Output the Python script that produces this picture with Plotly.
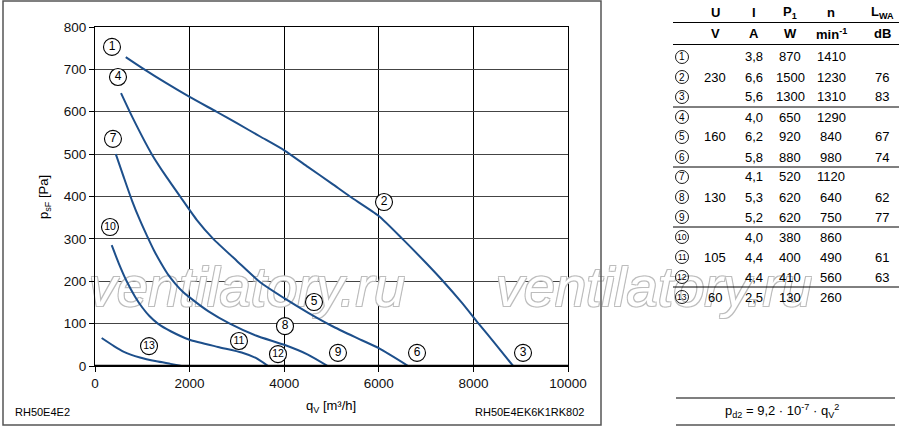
import plotly.graph_objects as go

# ---------------- data ----------------
# fan curves: flow q_V [m3/h] vs static pressure p_sF [Pa]
q_230 = [650, 1000, 1500, 2000, 2570, 3000, 3500, 4000, 4500, 5000, 5390, 6000, 6500, 7000, 7360, 7750, 8110, 8480, 8840]
p_230 = [729, 703, 668, 635, 600, 573, 541, 509, 470, 431, 400, 354, 300, 243, 200, 150, 100, 50, 0]

q_160 = [550, 800, 1200, 1500, 1800, 2150, 2500, 3000, 3500, 4000, 4500, 5000, 5500, 6000, 6620]
p_160 = [644, 585, 500, 448, 400, 345, 300, 248, 197, 160, 126, 95, 68, 42, 0]

q_130 = [440, 600, 780, 950, 1100, 1250, 1400, 1550, 1700, 1850, 2000, 2400, 2850, 3400, 4000, 4500, 4920]
p_130 = [500, 448, 391, 344, 307, 272, 242, 215, 194, 176, 162, 129, 100, 72, 50, 27, 0]

q_105 = [353, 500, 670, 850, 1000, 1150, 1330, 1600, 2000, 2600, 3100, 3400, 3660]
p_105 = [285, 243, 200, 163, 138, 118, 100, 82, 62, 45, 32, 19, 0]

q_60 = [141, 400, 600, 950, 1300, 1600, 1830]
p_60 = [66, 47, 34, 20, 11, 5, 0]

x_ticks = [0, 2000, 4000, 6000, 8000, 10000]
y_ticks = [0, 100, 200, 300, 400, 500, 600, 700, 800]

# operating point labels on the chart
label_ids = ["1", "4", "7", "10", "2", "5", "8", "11", "12", "13", "3", "6", "9"]
label_q = [359, 486, 380, 317, 6110, 4630, 4017, 3044, 3869, 1142, 9049, 6808, 5137]
label_p = [753, 682, 536, 328, 387, 151, 94, 59, 28, 47, 31, 31, 31]

# table
tbl_ids = [str(i) for i in range(1, 14)]
tbl_U = ["", "230", "", "", "160", "", "", "130", "", "", "105", "", "60"]
tbl_I = ["3,8", "6,6", "5,6", "4,0", "6,2", "5,8", "4,1", "5,3", "5,2", "4,0", "4,4", "4,4", "2,5"]
tbl_P1 = ["870", "1500", "1300", "650", "920", "880", "520", "620", "620", "380", "400", "410", "130"]
tbl_n = ["1410", "1230", "1310", "1290", "840", "980", "1120", "640", "750", "860", "490", "560", "260"]
tbl_L = ["", "76", "83", "", "67", "74", "", "62", "77", "", "61", "63", ""]
hdr1 = ["U", "I", "P<sub>1</sub>", "n", "L<sub>WA</sub>"]
hdr2 = ["V", "A", "W", "min<sup>-1</sup>", "dB"]

# ---------------- layout geometry (pixels) ----------------
W, H = 900, 428
PL, PR, PT, PB = 95, 568, 27, 366
XMAX, YMAX = 10000, 800
FONT = "Liberation Sans, Arial, Helvetica, sans-serif"
BLUE = "#1d4f8b"
WM_SHADOW = "-1px -1px 0 #bdbdbd, 1px -1px 0 #bdbdbd, -1px 1px 0 #bdbdbd, 1px 1px 0 #bdbdbd"
WM_FONT = dict(family=FONT, size=56, style="italic", color="white", shadow=WM_SHADOW)


def dx(px):
    return (px - PL) / (PR - PL) * XMAX


def dy(py):
    return (PB - py) / (PB - PT) * YMAX


def fx(px):
    return px / W


def fy(py):
    return 1 - py / H


fig = go.Figure()

# watermark inside the chart (beneath curves)
fig.add_trace(go.Scatter(
    x=[dx(247)], y=[dy(292)], mode="text", text=["ventilatory.ru"], cliponaxis=False,
    textposition="middle center", hoverinfo="skip", showlegend=False, textfont=WM_FONT,
))

for q, p in [(q_230, p_230), (q_160, p_160), (q_130, p_130), (q_105, p_105), (q_60, p_60)]:
    fig.add_trace(go.Scatter(x=q, y=p, mode="lines", line=dict(color=BLUE, width=2, shape="spline", smoothing=0.6),
                             hoverinfo="skip", showlegend=False))

# chart labels (circled numbers)
fig.add_trace(go.Scatter(
    x=label_q, y=label_p, mode="markers+text", text=label_ids, textposition="middle center",
    marker=dict(symbol="circle", size=17, color="white", line=dict(color="black", width=1.1)),
    textfont=dict(family=FONT, size=[12 if len(t) == 1 else 10.5 for t in label_ids], color="black"),
    cliponaxis=False, hoverinfo="skip", showlegend=False,
))

# second watermark copy on a full-page helper subplot (pixel coordinates), below table shapes/text
fig.add_trace(go.Scatter(
    x=[654], y=[292], xaxis="x2", yaxis="y2", mode="text", text=["ventilatory.ru"],
    textposition="middle center", hoverinfo="skip", showlegend=False, textfont=WM_FONT, cliponaxis=False,
))

ann = []
shapes = []
row_y = [57 + 20 * i for i in range(13)]
CX, R = 682, 6.5
for r, t in zip(row_y, tbl_ids):
    shapes.append(dict(type="circle", xref="paper", yref="paper", x0=fx(CX - R), x1=fx(CX + R),
                       y0=fy(r + R), y1=fy(r - R), line=dict(color="black", width=0.9)))
    ann.append(dict(x=fx(CX), y=fy(r), text=t, xanchor="center", yanchor="middle",
                    font=dict(family=FONT, size=10 if len(t) == 1 else 8.5, color="black")))

col_x = [715, 754, 790, 831, 882]
for cx, h1, h2 in zip(col_x, hdr1, hdr2):
    ann.append(dict(x=fx(cx), y=fy(12), text="<b>%s</b>" % h1, xanchor="center", yanchor="middle"))
    ann.append(dict(x=fx(cx), y=fy(34), text="<b>%s</b>" % h2, xanchor="center", yanchor="middle"))
for col, cx in zip([tbl_U, tbl_I, tbl_P1, tbl_n, tbl_L], col_x):
    for r, t in zip(row_y, col):
        if t:
            ann.append(dict(x=fx(cx), y=fy(r), text=t, xanchor="center", yanchor="middle"))

ann.append(dict(x=fx(782), y=fy(411),
                text="p<sub>d2</sub> = 9,2 · 10<sup>-7</sup> · q<sub>V</sub><sup>2</sup>",
                xanchor="center", yanchor="middle"))
ann.append(dict(x=fx(44), y=fy(197), text="p<sub>sF</sub> [Pa]", textangle=-90,
                xanchor="center", yanchor="middle"))
ann.append(dict(x=fx(331), y=fy(406), text="q<sub>V</sub> [m³/h]", xanchor="center", yanchor="middle"))
ann.append(dict(x=fx(13), y=fy(412), text="RH50E4E2", xanchor="left", yanchor="middle",
                font=dict(family=FONT, size=11, color="black")))
ann.append(dict(x=fx(586), y=fy(412), text="RH50E4EK6K1RK802", xanchor="right", yanchor="middle",
                font=dict(family=FONT, size=11, color="black")))
for a in ann:
    a.update(xref="paper", yref="paper", showarrow=False)
    a.setdefault("font", dict(family=FONT, size=13, color="black"))

# outer frame of chart
shapes.append(dict(type="rect", xref="paper", yref="paper", x0=fx(3), x1=fx(601), y0=fy(425), y1=fy(1),
                   line=dict(color="#555", width=1.5)))
# thick baseline
shapes.append(dict(type="line", xref="x", yref="y", x0=0, x1=XMAX, y0=0, y1=0, line=dict(color="black", width=2.5)))
# table rules
for yy in [22.5, 44.5, 107, 167, 227, 287]:
    shapes.append(dict(type="line", xref="paper", yref="paper", x0=fx(673), x1=fx(899), y0=fy(yy), y1=fy(yy),
                       line=dict(color="black", width=1)))
for yy in [398, 425]:
    shapes.append(dict(type="line", xref="paper", yref="paper", x0=fx(676), x1=fx(895), y0=fy(yy), y1=fy(yy),
                       line=dict(color="#555", width=1.3)))

fig.update_layout(
    width=W, height=H, margin=dict(l=0, r=0, t=0, b=0),
    paper_bgcolor="white", plot_bgcolor="rgba(0,0,0,0)",
    font=dict(family=FONT, size=13, color="black"),
    annotations=ann, shapes=shapes, showlegend=False,
    xaxis=dict(domain=[PL / W, PR / W], range=[0, XMAX], tickvals=x_ticks, ticktext=[str(v) for v in x_ticks],
               showgrid=True, gridcolor="black", gridwidth=1, showline=True, mirror=True, linecolor="black",
               linewidth=1, ticks="outside", ticklen=5, tickcolor="black", zeroline=False, automargin=False,
               tickfont=dict(family=FONT, size=13.5, color="#111")),
    yaxis=dict(domain=[1 - PB / H, 1 - PT / H], range=[0, YMAX], tickvals=y_ticks, ticktext=[str(v) for v in y_ticks],
               showgrid=True, gridcolor="#444", gridwidth=1.3, showline=True, mirror=True, linecolor="black",
               linewidth=1, ticks="outside", ticklen=5, tickcolor="black", zeroline=False, automargin=False,
               tickfont=dict(family=FONT, size=13.5, color="#111")),
    xaxis2=dict(domain=[0, 1], range=[0, W], anchor="y2", visible=False, fixedrange=True),
    yaxis2=dict(domain=[0, 1], range=[H, 0], anchor="x2", visible=False, fixedrange=True),
)

fig.write_html("out.html", config={"displayModeBar": False},
               post_script="document.body.style.margin='0px';document.body.style.overflow='hidden';")
